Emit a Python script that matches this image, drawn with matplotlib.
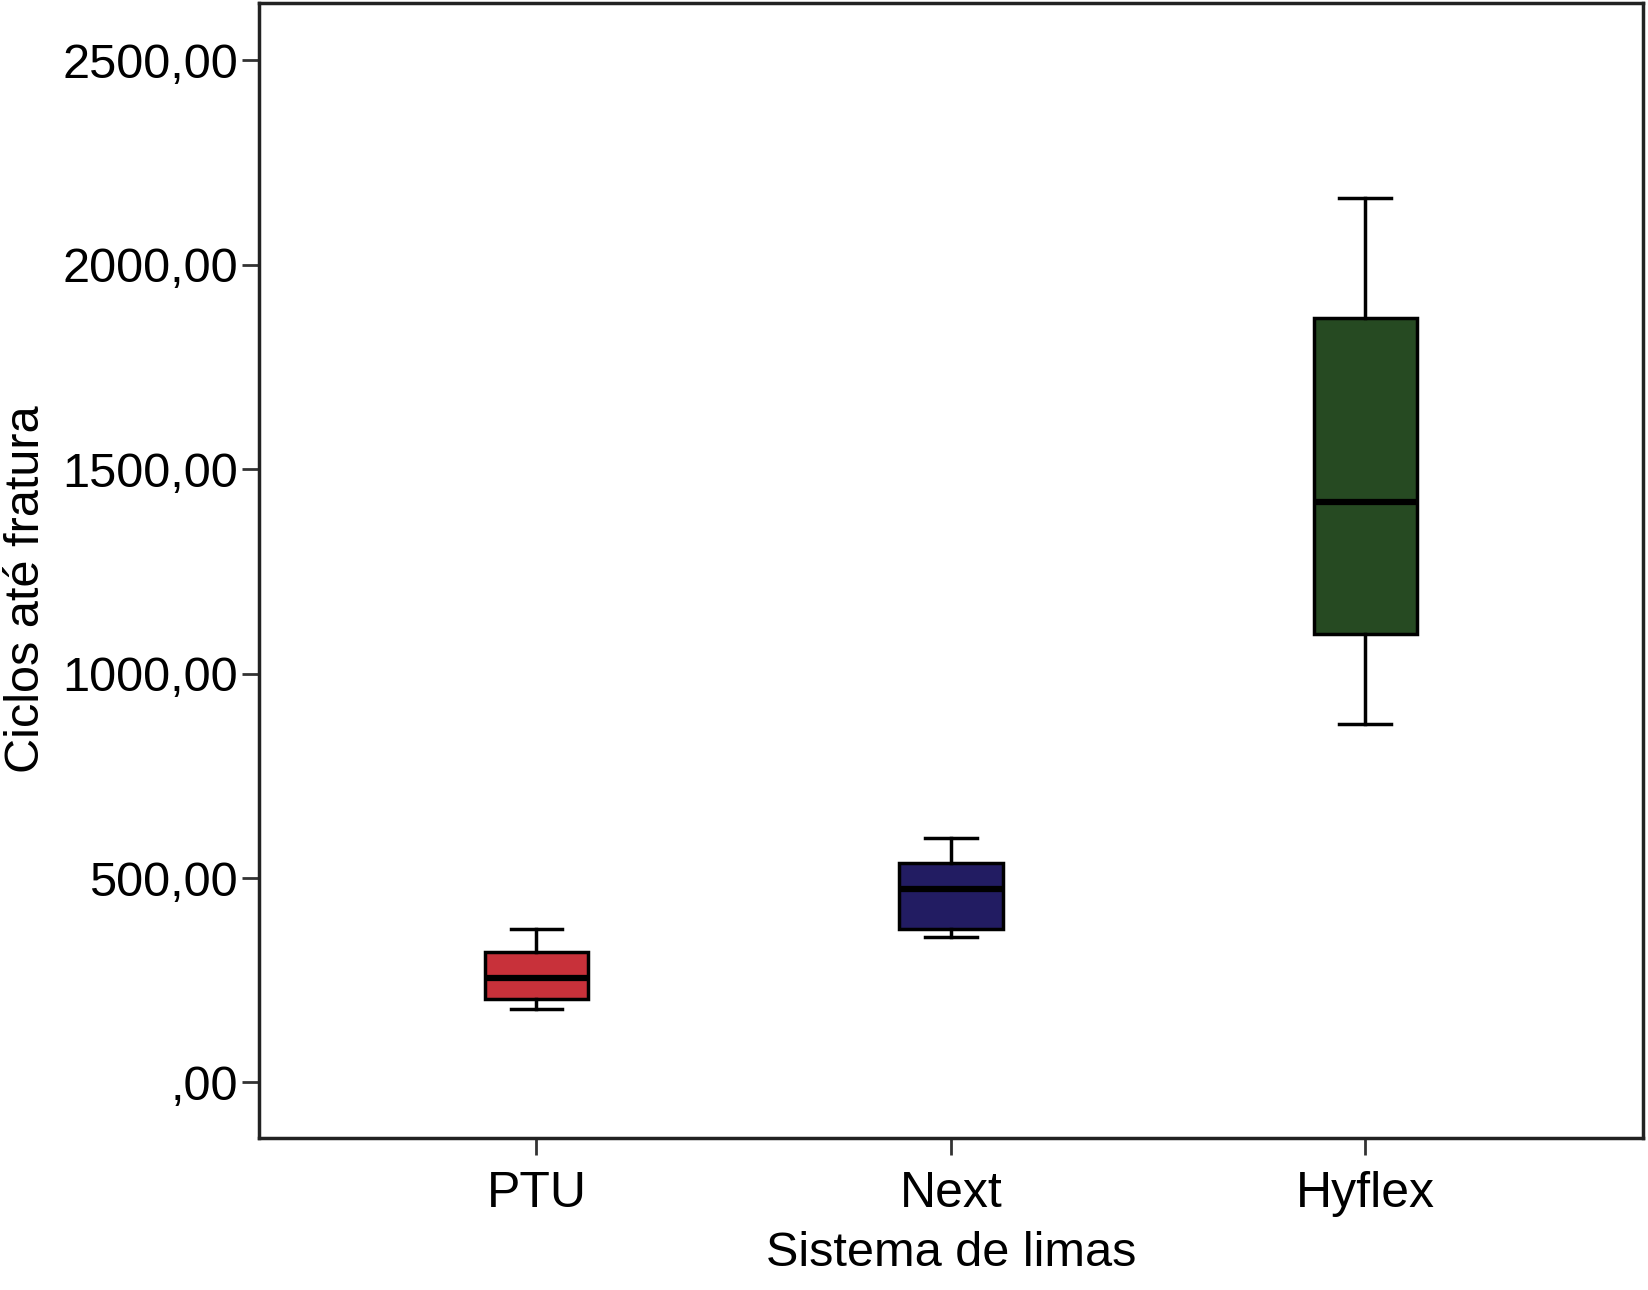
import matplotlib
matplotlib.use("Agg")
import matplotlib.pyplot as plt
from matplotlib.ticker import FuncFormatter

categories = ["PTU", "Next", "Hyflex"]
whisker_low = [180, 357, 877]
q1 = [203, 375, 1096]
median = [255, 473, 1420]
q3 = [319, 538, 1870]
whisker_high = [375, 597, 2163]
colors = ["#c8313a", "#221c62", "#264a22"]
yticks = [0, 500, 1000, 1500, 2000, 2500]

stats = []
for i, c in enumerate(categories):
    stats.append(dict(label=c, whislo=whisker_low[i], q1=q1[i], med=median[i],
                      q3=q3[i], whishi=whisker_high[i], fliers=[]))

fig = plt.figure(figsize=(16.48, 12.9), dpi=100)
ax = fig.add_axes([0.157, 0.1178, 0.840, 0.880])

positions = list(range(1, len(categories) + 1))
bp = ax.bxp(stats, positions=positions, widths=0.25, patch_artist=True,
            showfliers=False,
            boxprops=dict(linewidth=2.5, edgecolor="black"),
            medianprops=dict(color="black", linewidth=4.5),
            whiskerprops=dict(color="black", linewidth=2.5),
            capprops=dict(color="black", linewidth=2.5),
            capwidths=0.125)
for patch, col in zip(bp["boxes"], colors):
    patch.set_facecolor(col)

ax.set_xlim(0.33, 3.67)
ax.set_ylim(-136, 2641)
ax.set_yticks(yticks)
ax.yaxis.set_major_formatter(FuncFormatter(
    lambda v, p: ",00" if v == 0 else f"{int(v)},00"))
ax.set_xticks(positions)
ax.set_xticklabels(categories)

fam = ["Liberation Sans", "DejaVu Sans"]
for lab in ax.get_yticklabels():
    lab.set_fontfamily(fam)
    lab.set_fontsize(35)
for lab in ax.get_xticklabels():
    lab.set_fontfamily(fam)
    lab.set_fontsize(36)

ax.tick_params(axis="both", length=12, width=2, color="#333333")
ax.tick_params(axis="y", pad=3)
ax.tick_params(axis="x", pad=12)
for s in ax.spines.values():
    s.set_linewidth(2.5)
    s.set_color("#222222")

ax.set_xlabel("Sistema de limas", fontsize=35, family=fam, labelpad=10)
fig.text(27 / 1648, 1 - 589 / 1290, "Ciclos até fratura", rotation=90,
         ha="center", va="center", fontsize=35, family=fam)

fig.savefig("out.png", dpi=100)
